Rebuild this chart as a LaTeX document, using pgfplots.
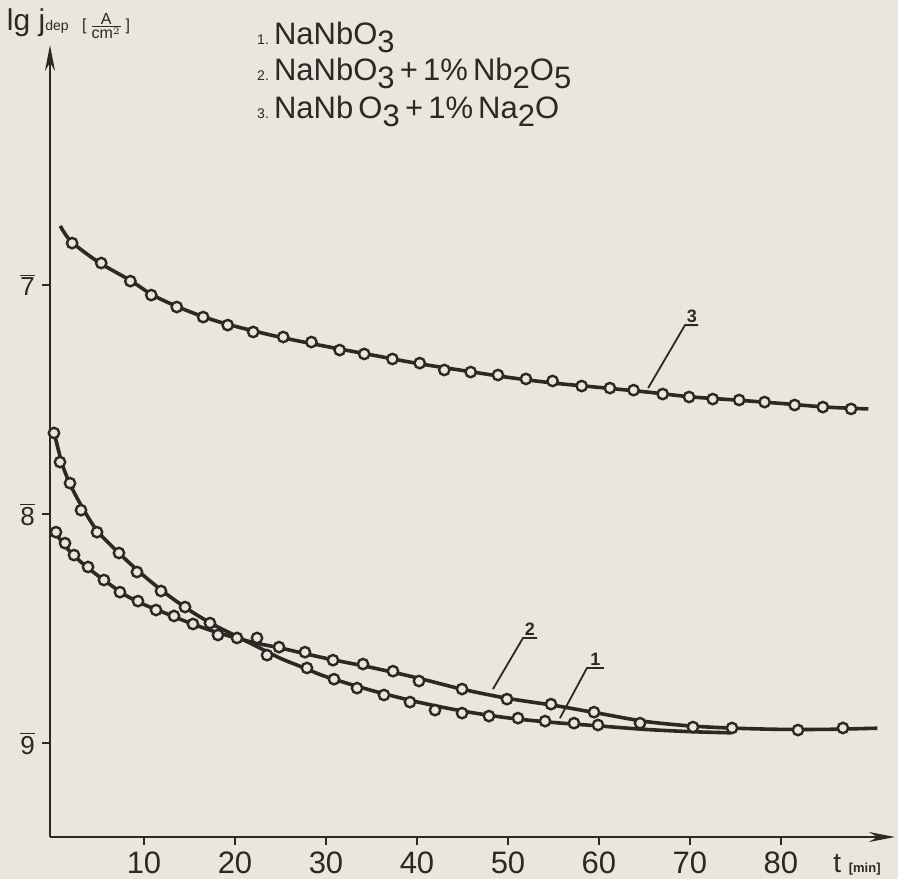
\documentclass[border=0pt]{standalone}
\usepackage{fontspec}
\setmainfont{Liberation Sans}
\usepackage{pgfplots}
\pgfplotsset{compat=1.18}
\usetikzlibrary{arrows.meta}
\definecolor{paper}{RGB}{233,230,220}
\definecolor{ink}{RGB}{45,40,38}
\pagecolor{paper}
\newcommand\sub[1]{\raisebox{-4pt}{#1}}
\newcommand\barnum[1]{$\overline{\mbox{#1}}$}
\begin{document}
\begin{tikzpicture}
\begin{axis}[
  scale only axis, width=422.5pt, height=396pt,
  xmin=-0.33, xmax=92.53, ymin=-9.41, ymax=-5.952,
  axis lines=left,
  axis line style={ink, line width=1.2pt, -{Stealth[length=13pt,width=5pt]}},
  xtick={10,20,30,40,50,60,70,80},
  ytick={-9,-8,-7},
  yticklabels={\barnum{9},\barnum{8},\barnum{7}},
  tick align=outside, major tick length=4pt,
  tick style={ink, line width=1pt},
  /pgf/number format/assume math mode=true,
  xticklabel style={font=\fontsize{15.5}{18}\selectfont, text=ink},
  yticklabel style={font=\fontsize{13}{15}\selectfont, text=ink},
  clip=false,
  curve/.style={ink, line width=1.8pt, smooth, no marks},
  pts/.style={only marks, mark=*, mark size=2.6pt,
     mark options={draw=ink, fill=paper, line width=1.2pt}},
]
% curve 1 : NaNbO3
\addplot[curve] coordinates {
(0.1,-7.64) (1,-7.78) (2,-7.88) (3.5,-7.99) (5,-8.08) (7.5,-8.18)
(10,-8.27) (12.5,-8.35) (15,-8.42) (17.5,-8.48) (20,-8.53) (22.5,-8.58)
(25,-8.63) (27.5,-8.67) (30,-8.71) (35,-8.77) (40,-8.82) (45,-8.86)
(50,-8.89) (55,-8.91) (60,-8.925) (65,-8.94) (70,-8.95) (74.5,-8.955)};
\addplot[pts] coordinates {
(0.11,-7.646) (0.77,-7.773) (1.87,-7.865) (3.08,-7.983) (4.84,-8.079)
(7.25,-8.170) (9.23,-8.253) (11.87,-8.336) (14.51,-8.406) (17.25,-8.476)
(22.42,-8.541) (23.52,-8.616) (27.91,-8.672) (30.88,-8.721) (33.41,-8.760)
(36.37,-8.790) (39.23,-8.821) (41.98,-8.856) (44.95,-8.869) (47.91,-8.882)
(51.10,-8.891) (54.07,-8.904) (57.25,-8.913) (59.89,-8.921)};
% curve 2 : NaNbO3 + 1% Nb2O5
\addplot[curve] coordinates {
(0,-8.07) (2,-8.17) (4,-8.24) (6,-8.30) (8,-8.355) (10,-8.395)
(12.5,-8.435) (15,-8.475) (17.5,-8.51) (20,-8.54) (22.5,-8.565)
(25,-8.585) (30,-8.63) (35,-8.67) (40,-8.715) (45,-8.765) (50,-8.805)
(55,-8.835) (60,-8.87) (65,-8.905) (70,-8.925) (75,-8.935) (80,-8.94)
(85,-8.94) (90.6,-8.935)};
\addplot[pts] coordinates {
(0.33,-8.079) (1.32,-8.127) (2.31,-8.179) (3.85,-8.231) (5.60,-8.288)
(7.36,-8.341) (9.34,-8.380) (11.32,-8.419) (13.30,-8.445) (15.38,-8.480)
(18.13,-8.528) (20.22,-8.541) (24.84,-8.581) (27.69,-8.603) (30.77,-8.638)
(34.07,-8.655) (37.36,-8.686) (40.22,-8.729) (44.95,-8.764) (49.89,-8.808)
(54.73,-8.830) (59.45,-8.865) (64.51,-8.913) (70.33,-8.930) (74.62,-8.934)
(81.87,-8.943) (86.81,-8.934)};
% curve 3 : NaNbO3 + 1% Na2O
\addplot[curve] coordinates {
(0.8,-6.742) (2,-6.81) (5,-6.90) (8.5,-6.98) (11,-7.045) (14,-7.10)
(17,-7.145) (20,-7.18) (25,-7.228) (30,-7.268) (35,-7.305) (40,-7.342)
(45,-7.373) (50,-7.403) (55,-7.428) (60,-7.447) (65,-7.466) (70,-7.488)
(75,-7.502) (80,-7.517) (85,-7.533) (89.6,-7.541)};
\addplot[pts] coordinates {
(2.1,-6.817) (5.3,-6.904) (8.5,-6.983) (10.8,-7.044) (13.6,-7.096)
(16.5,-7.140) (19.2,-7.175) (22.0,-7.205) (25.3,-7.227) (28.4,-7.249)
(31.5,-7.284) (34.2,-7.301) (37.3,-7.323) (40.3,-7.341) (43.0,-7.371)
(45.9,-7.380) (48.9,-7.393) (51.97,-7.410) (54.9,-7.419) (58.1,-7.441)
(61.2,-7.450) (63.8,-7.459) (67.0,-7.476) (69.9,-7.489) (72.5,-7.498)
(75.4,-7.502) (78.2,-7.511) (81.5,-7.524) (84.6,-7.533) (87.7,-7.541)};
% curve labels with leaders
\draw[ink, line width=0.9pt] (axis cs:70.9,-7.175) -- (axis cs:69.45,-7.175) -- (axis cs:65.4,-7.450);
\node[ink, font=\bfseries\fontsize{9}{10}\selectfont, anchor=south, inner sep=1pt] at (axis cs:70.2,-7.175) {3};
\draw[ink, line width=0.9pt] (axis cs:53.2,-8.541) -- (axis cs:51.65,-8.541) -- (axis cs:48.35,-8.764);
\node[ink, font=\bfseries\fontsize{9}{10}\selectfont, anchor=south, inner sep=1pt] at (axis cs:52.4,-8.541) {2};
\draw[ink, line width=0.9pt] (axis cs:60.55,-8.672) -- (axis cs:58.68,-8.672) -- (axis cs:55.71,-8.891);
\node[ink, font=\bfseries\fontsize{9}{10}\selectfont, anchor=south, inner sep=1pt] at (axis cs:59.6,-8.672) {1};
% axis titles
\node[ink, anchor=base west, inner sep=0, font=\fontsize{15}{17}\selectfont] at (axis cs:-5.1,-5.89)
  {lg j{\fontsize{7}{8}\selectfont dep}\, {\fontsize{8}{9}\selectfont[\,$\frac{\mbox{A}}{\mbox{cm}^2}$\,]}};
\node[ink, anchor=base west, inner sep=0, font=\fontsize{14}{16}\selectfont] at (axis cs:85.7,-9.563)
  {t {\fontsize{6.5}{8}\selectfont\bfseries [min]}};
% legend text
\node[ink, anchor=base west, inner sep=0, font=\fontsize{15.5}{18.5}\selectfont] at (axis cs:22.4,-5.948)
  {{\fontsize{7}{8}\selectfont 1.}\,NaNbO\sub{3}};
\node[ink, anchor=base west, inner sep=0, font=\fontsize{15.5}{18.5}\selectfont] at (axis cs:22.4,-6.109)
  {{\fontsize{7}{8}\selectfont 2.}\,NaNbO\sub{3}\,+\,1\%\,Nb\sub{2}O\sub{5}};
\node[ink, anchor=base west, inner sep=0, font=\fontsize{15.5}{18.5}\selectfont] at (axis cs:22.4,-6.271)
  {{\fontsize{7}{8}\selectfont 3.}\,NaNb\,O\sub{3}\,+\,1\%\,Na\sub{2}O};
\coordinate (BL) at (axis cs:-5.824,-9.594);
\coordinate (TR) at (axis cs:92.86,-5.7555);
\end{axis}
\pgfresetboundingbox
\path[use as bounding box] (BL) rectangle (TR);
\end{tikzpicture}
\end{document}
